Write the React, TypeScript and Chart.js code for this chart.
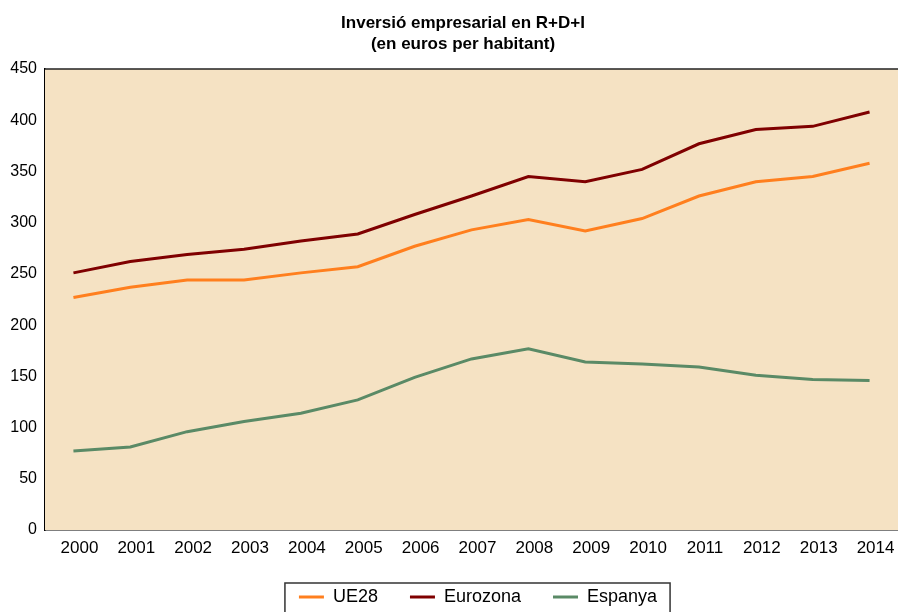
import React, { useEffect, useRef } from "react";
import { Chart, registerables } from "chart.js";

Chart.register(...registerables);

const years = ["2000","2001","2002","2003","2004","2005","2006","2007","2008","2009","2010","2011","2012","2013","2014"];
const ue28 = [227, 237, 244, 244, 251, 257, 277, 293, 303, 292, 304, 326, 340, 345, 358];
const eurozona = [251, 262, 269, 274, 282, 289, 308, 326, 345, 340, 352, 377, 391, 394, 408];
const espanya = [77, 81, 96, 106, 114, 127, 149, 167, 177, 164, 162, 159, 151, 147, 146];
const titleLines = ["Inversió empresarial en R+D+I", "(en euros per habitant)"];

const FONT = "'Liberation Sans', Arial, sans-serif";
const LEGEND_PAD = 32;
const LEGEND_FONT = 18;

const decorPlugin = {
  id: "decor",
  beforeLayout(chart: any) {
    const lg = chart.legend;
    if (lg && !lg.__patched) {
      const orig = lg.fit.bind(lg);
      lg.fit = () => {
        orig();
        lg.height = 30;
      };
      lg.__patched = true;
    }
  },
  afterLayout(chart: any) {
    const lg = chart.legend;
    if (!lg) return;
    const dy = 597 - (lg.top + LEGEND_PAD + LEGEND_FONT / 2);
    const dx = 29;
    lg.top += dy;
    lg.bottom = chart.height;
    lg.height = lg.bottom - lg.top;
    lg.left += dx;
    lg.right += dx;
    (lg.legendHitBoxes || []).forEach((b: any) => {
      b.top += dy;
      b.left += dx;
    });
  },
  beforeDatasetsDraw(chart: any) {
    const { ctx, chartArea } = chart;
    ctx.save();
    ctx.fillStyle = "#F5E2C3";
    ctx.fillRect(chartArea.left, chartArea.top, chartArea.right - chartArea.left, chartArea.bottom - chartArea.top);
    ctx.strokeStyle = "#222";
    ctx.lineWidth = 1.5;
    ctx.beginPath();
    ctx.moveTo(chartArea.left, chartArea.top);
    ctx.lineTo(chartArea.right, chartArea.top);
    ctx.stroke();
    ctx.restore();
  },
  afterDraw(chart: any) {
    const { ctx } = chart;
    ctx.save();
    ctx.fillStyle = "#000";
    ctx.font = `bold 17px ${FONT}`;
    ctx.textAlign = "center";
    ctx.textBaseline = "middle";
    ctx.fillText(titleLines[0], 463, 23);
    ctx.fillText(titleLines[1], 463, 44);
    const boxes = chart.legend?.legendHitBoxes || [];
    if (boxes.length) {
      const l = Math.min(...boxes.map((b: any) => b.left)) - 14;
      const r = Math.max(...boxes.map((b: any) => b.left + b.width)) + 13;
      ctx.strokeStyle = "#333";
      ctx.lineWidth = 1.5;
      ctx.strokeRect(l, 583, r - l, 40);
    }
    ctx.restore();
  },
};

export default function App() {
  const ref = useRef<HTMLCanvasElement>(null);
  useEffect(() => {
    if (!ref.current) return;
    const mk = (label: string, data: number[], color: string) => ({
      label,
      data,
      borderColor: color,
      backgroundColor: color,
      borderWidth: 3,
      pointRadius: 0,
      tension: 0,
    });
    const chart = new Chart(ref.current, {
      type: "line",
      data: {
        labels: years,
        datasets: [
          mk("UE28", ue28, "#FF7F1E"),
          mk("Eurozona", eurozona, "#7F0000"),
          mk("Espanya", espanya, "#5A8A66"),
        ],
      },
      options: {
        animation: false,
        responsive: false,
        layout: { padding: { top: 69, right: 0, left: 0, bottom: 0 } },
        plugins: {
          title: { display: false },
          tooltip: { enabled: false },
          legend: {
            display: true,
            position: "bottom",
            labels: {
              font: { family: FONT, size: LEGEND_FONT },
              color: "#000",
              boxWidth: 25,
              boxHeight: 3,
              padding: LEGEND_PAD,
              generateLabels: (c: any) =>
                c.data.datasets.map((d: any, i: number) => ({
                  text: d.label,
                  fillStyle: d.borderColor,
                  strokeStyle: d.borderColor,
                  lineWidth: 0,
                  datasetIndex: i,
                  fontColor: "#000",
                })),
            },
          },
        },
        scales: {
          x: {
            offset: true,
            grid: { display: false },
            border: { display: true, color: "#000", width: 1.5 },
            ticks: {
              font: { family: FONT, size: 17 },
              color: "#000",
              padding: 0,
              labelOffset: 6,
              maxRotation: 0,
              autoSkip: false,
            },
            afterFit: (s: any) => {
              s.height = 52;
            },
          },
          y: {
            min: 0,
            max: 450,
            grid: { display: false },
            border: { display: true, color: "#000", width: 1.5 },
            ticks: {
              stepSize: 50,
              font: { family: FONT, size: 16 },
              color: "#000",
              padding: 0,
            },
            afterFit: (s: any) => {
              s.width = 45;
            },
          },
        },
      },
      plugins: [decorPlugin],
    });
    return () => chart.destroy();
  }, []);
  return (
    <div style={{ position: "absolute", left: 0, top: 0, width: 898, height: 612, background: "#fff" }}>
      <canvas ref={ref} width={898} height={612} />
    </div>
  );
}
